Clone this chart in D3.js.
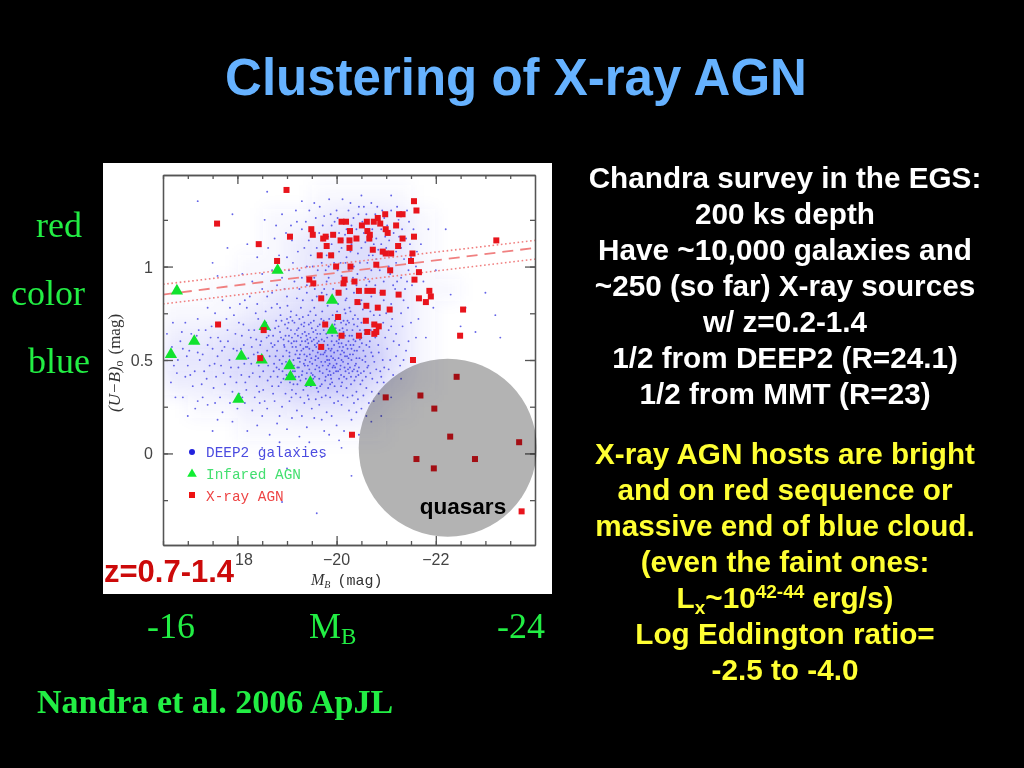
<!DOCTYPE html>
<html><head><meta charset="utf-8">
<script src="https://cdn.jsdelivr.net/npm/d3@7"></script>
<style>html,body{margin:0;padding:0;background:#000;overflow:hidden}svg{display:block}</style>
</head><body><svg id="c" width="1024" height="768"></svg>
<script>
// Chart values: [M_B, (U-B)]
const blueCore=[[-19.52,.55],[-19.81,.62],[-20.13,.49],[-19.27,.58],[-19.66,.44],[-20.31,.63],[-18.92,.52],[-19.08,.66],[-20.44,.42],[-19.97,.71],[-19.36,.47],[-20.22,.56],[-18.71,.57],[-19.73,.53],[-20.05,.61],[-19.44,.69],[-20.58,.52],[-18.84,.45],[-19.17,.41],[-20.37,.74],[-19.59,.62],[-19.91,.38],[-20.69,.66],[-18.63,.63],[-19.22,.51],[-20.16,.77],[-19.48,.36],[-20.51,.59],[-19.03,.6],[-19.86,.48],[-20.27,.46],[-18.96,.69],[-19.69,.72],[-20.76,.49],[-19.31,.64],[-20.02,.55],[-18.55,.49],[-19.12,.44],[-20.42,.68],[-19.57,.5],[-19.78,.41],[-20.09,.42],[-18.78,.71],[-20.62,.71],[-19.41,.57],[-19.94,.65],[-20.33,.53],[-19.25,.72],[-18.88,.38],[-19.63,.33],[-20.2,.35],[-20.84,.58],[-19.05,.54],[-19.38,.4],[-19.84,.56],[-20.47,.61],[-18.67,.41],[-19.55,.78],[-20.12,.67],[-20.55,.44],[-19.19,.6],[-19.75,.6],[-18.48,.6],[-20.29,.41],[-19.47,.62],[-19.99,.44],[-20.72,.4],[-19.1,.34],[-18.8,.55],[-19.35,.53],[-20.39,.48],[-19.6,.47],[-20.07,.74],[-20.93,.5],[-19.89,.52],[-19.28,.78],[-18.58,.7],[-20.25,.7],[-19.02,.47],[-19.7,.37],[-20.6,.35],[-20.15,.54],[-19.45,.45],[-18.93,.61],[-19.82,.79],[-20.48,.37],[-19.15,.7],[-20.34,.58],[-19.95,.58],[-19.62,.68],[-18.74,.48],[-20.81,.67],[-19.33,.34],[-20.01,.33],[-19.5,.6],[-20.66,.57],[-18.99,.42],[-19.24,.46],[-19.77,.49],[-20.18,.44],[-20.41,.55],[-18.6,.55],[-19.08,.76],[-19.87,.67],[-19.4,.52],[-20.53,.77],[-20.1,.59],[-19.68,.57],[-18.86,.65],[-19.2,.55],[-20.3,.5],[-19.56,.41],[-19.92,.46],[-20.75,.74],[-18.7,.36],[-20.03,.8],[-19.3,.42],[-20.45,.46],[-19.13,.5],[-19.74,.66],[-20.24,.6],[-19.43,.74],[-18.95,.57],[-20.57,.64],[-19.83,.35],[-20.14,.71],[-19.64,.56],[-18.52,.44],[-19.37,.6],[-20.36,.39],[-20.88,.44],[-19.06,.38],[-19.97,.5],[-19.53,.65],[-20.21,.52],[-19.26,.49],[-18.82,.6],[-19.8,.45],[-20.5,.7],[-20.08,.47],[-19.42,.31],[-19.71,.76],[-20.32,.66],[-18.9,.48],[-19.16,.64],[-20.64,.47],[-19.58,.52],[-19.9,.6],[-20.17,.63],[-20.98,.62],[-19.34,.68],[-18.65,.52],[-19.0,.72],[-20.4,.33],[-19.76,.54],[-20.04,.51],[-19.46,.49],[-20.28,.76],[-19.21,.37],[-18.76,.67],[-20.7,.54],[-19.65,.46],[-19.88,.42],[-20.11,.38],[-19.54,.71],[-19.29,.55],[-20.46,.57],[-18.98,.49],[-19.79,.7],[-20.23,.48],[-19.11,.57],[-20.59,.41],[-19.39,.63],[-19.96,.36],[-20.78,.62],[-18.73,.44],[-19.61,.59],[-20.06,.66],[-20.35,.45],[-19.23,.67],[-19.49,.43],[-18.87,.74],[-19.85,.5],[-20.19,.58],[-20.52,.5],[-19.04,.63]];
const blueCoreMore=[[-19.56,.58],[-19.83,.47],[-19.33,.56],[-20.02,.63],[-19.67,.64],[-20.27,.53],[-18.94,.58],[-19.14,.47],[-19.47,.39],[-19.92,.74],[-20.16,.46],[-19.72,.43],[-20.38,.6],[-19.01,.67],[-19.28,.62],[-19.58,.74],[-19.88,.55],[-20.09,.7],[-20.29,.37],[-18.81,.41],[-19.42,.47],[-19.73,.58],[-20.05,.4],[-20.46,.51],[-19.17,.53],[-18.68,.59],[-19.51,.48],[-19.94,.43],[-20.21,.66],[-20.62,.46],[-19.32,.73],[-19.63,.51],[-19.84,.66],[-20.13,.57],[-18.89,.71],[-19.07,.43],[-19.39,.36],[-19.77,.39],[-20.35,.69],[-20.54,.55],[-19.19,.74],[-19.54,.61],[-20,.48],[-20.25,.43],[-18.77,.52],[-19.45,.56],[-19.69,.49],[-20.08,.53],[-20.43,.72],[-19.24,.41],[-18.97,.63],[-19.6,.35],[-19.91,.63],[-20.18,.75],[-20.67,.6],[-19.36,.65],[-19.8,.52],[-20.03,.44],[-19.11,.71],[-18.62,.47],[-19.5,.67],[-19.74,.71],[-20.3,.56],[-20.49,.43],[-19.26,.53],[-19.95,.54],[-19.65,.4],[-20.12,.62],[-20.37,.47],[-18.85,.5],[-19.41,.61],[-19.87,.37],[-20.24,.51],[-20.73,.52],[-19.05,.52],[-19.31,.44],[-19.57,.45],[-19.82,.58],[-20.06,.57],[-20.33,.72],[-18.72,.63],[-19.2,.66],[-19.48,.7],[-19.98,.67],[-20.56,.66],[-19.13,.37],[-19.37,.5],[-19.62,.54],[-19.86,.44],[-20.15,.41],[-20.4,.51],[-18.91,.44],[-19.44,.64],[-19.7,.61],[-20.01,.76],[-20.26,.63],[-20.8,.45],[-19.09,.59],[-19.3,.6],[-19.55,.37],[-19.79,.64],[-20.1,.5],[-20.44,.64],[-18.83,.68],[-19.16,.44],[-19.4,.43],[-19.66,.69],[-19.93,.51],[-20.2,.4],[-20.6,.58],[-19.25,.51],[-19.52,.42],[-19.78,.55],[-20.04,.59],[-20.32,.44],[-18.66,.66],[-19.03,.7],[-19.35,.7],[-19.59,.57],[-19.85,.72],[-20.14,.65],[-20.52,.39],[-19.18,.57],[-19.46,.53],[-19.72,.47],[-19.97,.46],[-20.22,.71],[-20.68,.43],[-18.93,.4],[-19.27,.39],[-19.61,.64],[-19.89,.4],[-20.17,.52],[-20.39,.41],[-19.1,.62],[-19.43,.59],[-19.75,.68],[-20.07,.45],[-20.34,.61],[-20.72,.69],[-18.79,.46],[-19.22,.63],[-19.49,.51],[-19.81,.5],[-20.11,.55],[-20.47,.66],[-19.04,.48],[-19.34,.48],[-19.64,.6],[-19.96,.69],[-20.28,.58],[-20.58,.49],[-18.59,.62],[-18.99,.55],[-19.38,.57],[-19.68,.53],[-20,.6],[-20.23,.45],[-20.5,.62],[-19.14,.6],[-19.53,.4],[-19.9,.56],[-20.19,.69],[-18.75,.58],[-19.29,.69],[-19.67,.36],[-20.09,.36],[-20.42,.44],[-19.07,.73],[-19.47,.76],[-19.83,.42],[-20.26,.78],[-20.85,.54],[-18.88,.62],[-19.21,.46],[-19.58,.66],[-19.94,.47],[-20.36,.55]];
const blueWide=[[-16.6,.52],[-16.72,.47],[-16.85,.6],[-16.95,.41],[-17.03,.55],[-17.1,.36],[-17.18,.63],[-17.24,.5],[-17.33,.44],[-17.4,.58],[-17.48,.68],[-17.52,.35],[-17.6,.52],[-17.66,.6],[-17.72,.43],[-17.78,.72],[-17.84,.5],[-17.9,.33],[-17.96,.64],[-18.02,.46],[-18.07,.56],[-18.12,.69],[-18.16,.38],[-18.22,.51],[-18.27,.62],[-18.31,.43],[-18.37,.75],[-18.41,.54],[-18.44,.33],[-18.47,.67],[-16.58,.64],[-16.66,.38],[-16.8,.5],[-16.9,.56],[-17,.47],[-17.07,.64],[-17.14,.44],[-17.2,.54],[-17.28,.37],[-17.36,.66],[-17.44,.47],[-17.5,.56],[-17.57,.41],[-17.63,.7],[-17.69,.55],[-17.75,.37],[-17.81,.6],[-17.87,.46],[-17.93,.74],[-17.99,.55],[-18.04,.32],[-18.09,.63],[-18.14,.48],[-18.19,.78],[-18.24,.41],[-18.29,.57],[-18.34,.66],[-18.39,.36],[-18.43,.47],[-18.46,.58],[-16.68,.57],[-16.78,.43],[-16.88,.65],[-16.98,.52],[-17.05,.42],[-17.12,.59],[-17.22,.66],[-17.3,.53],[-17.38,.4],[-17.46,.62],[-17.54,.48],[-17.61,.62],[-17.67,.47],[-17.74,.57],[-17.8,.66],[-17.86,.41],[-17.92,.56],[-17.98,.38],[-18.03,.7],[-18.08,.42],[-18.13,.58],[-18.18,.34],[-18.23,.66],[-18.28,.48],[-18.33,.53],[-18.38,.61],[-18.42,.72],[-18.45,.41],[-17.4,.78],[-17.7,.82],[-18.05,.8],[-18.25,.84],[-18.4,.8],[-18.6,.84],[-18.8,.8],[-19,.84],[-19.2,.83],[-19.4,.86],[-19.6,.84],[-19.8,.85],[-20,.86],[-20.2,.83],[-20.4,.82],[-20.6,.8],[-20.8,.78],[-21,.75],[-21.1,.68],[-21.15,.6],[-21.2,.52],[-21.05,.45],[-20.95,.38],[-20.85,.32],[-20.75,.28],[-20.65,.27],[-20.5,.24],[-20.35,.27],[-20.25,.23],[-20.1,.26],[-19.95,.27],[-19.8,.22],[-19.65,.26],[-19.5,.24],[-19.35,.27],[-19.2,.23],[-19.05,.28],[-18.9,.25],[-18.75,.28],[-18.6,.24],[-18.45,.27],[-18.3,.23],[-18.15,.27],[-18,.24],[-17.85,.27],[-17.7,.22],[-17.55,.27],[-17.4,.26],[-18.5,.2],[-18.8,.16],[-19.1,.19],[-19.4,.14],[-19.7,.18],[-20,.15],[-20.3,.18],[-20.6,.2],[-20.9,.2],[-18.2,.12],[-18.65,.1],[-19.25,.09],[-19.85,.1],[-20.45,.1],[-21.1,.3],[-21.3,.4],[-21.35,.5],[-21.45,.6],[-21.5,.7],[-21.3,.75],[-21.25,.85],[-19.2,.03],[-18.5,.03],[-20.1,.03],[-19.7,-.02],[-19,-.08],[-20.3,-.12],[-18.3,-.13],[-18.9,-.26],[-19.6,-.32],[-17.5,.12],[-17,.2],[-17.2,.28],[-16.9,.3]];
const blueWideMore=[[-18.52,.34],[-18.57,.76],[-18.61,.39],[-18.69,.78],[-18.72,.32],[-18.83,.36],[-18.86,.78],[-18.97,.32],[-19.01,.79],[-19.09,.3],[-19.18,.32],[-19.27,.3],[-19.32,.82],[-19.44,.29],[-19.51,.82],[-19.58,.29],[-19.7,.3],[-19.78,.31],[-19.87,.3],[-19.93,.82],[-20.03,.28],[-20.13,.31],[-20.18,.82],[-20.22,.3],[-20.32,.31],[-20.43,.29],[-20.48,.8],[-20.54,.31],[-20.68,.76],[-20.71,.33],[-20.82,.38],[-20.87,.74],[-20.9,.41],[-20.94,.7],[-20.96,.46],[-21.02,.56],[-21.05,.66],[-21.08,.5],[-21.12,.72],[-21.14,.42],[-21.2,.64],[-21.26,.58],[-21.28,.47],[-21.33,.68],[-21.4,.55],[-21.44,.78],[-21.55,.5],[-21.6,.62],[-18.1,.3],[-17.95,.28],[-17.65,.3],[-17.3,.3],[-17.15,.24],[-16.75,.3],[-18.35,.3],[-18.55,.28],[-18.85,.2],[-19,.13],[-19.3,.2],[-19.55,.19],[-19.75,.12],[-19.9,.2],[-20.15,.12],[-20.4,.22],[-20.7,.17],[-20.05,.07],[-19.45,.06],[-18.85,.06],[-18.4,.15],[-17.9,.17],[-17.6,.18],[-17.2,.72],[-16.95,.7],[-16.7,.7],[-17.55,.75],[-17.85,.78],[-18.15,.82],[-18.5,.88],[-18.7,.86],[-18.95,.88],[-19.25,.88],[-19.5,.9],[-19.75,.88],[-20.1,.9],[-20.35,.86],[-20.7,.84],[-20.95,.82],[-21.1,.8]];
const blueRed=[[-20.5,1.1],[-20.9,1.2],[-20.2,1.05],[-21.2,1.02],[-20.7,.98],[-20.3,1.22],[-19.9,1.12],[-20.1,.95],[-21,1.1],[-20.6,1.28],[-19.7,1.02],[-21.4,1.15],[-20.4,.9],[-20.8,1.04],[-19.5,1.2],[-20,1.3],[-21.1,1.3],[-20.25,1.14],[-20.95,.92],[-19.8,.92],[-21.3,.94],[-20.55,1.18],[-20.15,1.25],[-19.6,1.1],[-20.75,1.12],[-21.25,1.25],[-20.35,1],[-19.95,1.02],[-20.85,1.25],[-19.35,1.1],[-21.5,1.05],[-20.65,1.06],[-20.05,1.18],[-20.45,1.32],[-19.25,.98],[-21.05,1],[-19.75,1.27],[-21.15,1.18],[-20.2,.88],[-19.55,.94],[-20.88,.86],[-21.38,.88],[-19.1,1.14],[-19.9,1.22],[-21.6,1],[-20.6,.9],[-19.45,1.3],[-21.55,1.2],[-20.3,1.12],[-20.72,1.2],[-19.65,1.18],[-20.98,1.16],[-19.2,1.24],[-19,1.05],[-20.12,1.36],[-20.82,1.32],[-21.42,1.3],[-19.85,1.36],[-19.4,.9],[-18.9,.94],[-18.75,1.15],[-18.7,.98],[-18.55,1.25],[-18.4,1.05],[-18.3,.92],[-18.9,1.28],[-19.3,1.35],[-19.55,1.34],[-20.5,1.38],[-21.1,1.38],[-21.7,1.12],[-21.75,.92],[-21.85,1.2],[-21.95,.78],[-21.8,.62],[-21.65,.72],[-22,.98],[-22.2,1.2],[-22.3,.85],[-22.5,.68],[-22.6,.78],[-23,.86],[-23.2,.74],[-23.3,.62],[-22.8,.65],[-18.2,1.12],[-18.1,.96],[-17.8,1.1],[-17.5,1.02],[-17.2,1.35],[-17.9,1.28],[-18.6,1.4],[-17.6,.95],[-19.7,.86],[-20.5,.82],[-21.35,.82],[-19.15,.92],[-20.05,1.08],[-20.4,1.2],[-20.8,1.15],[-20.25,.98],[-21.2,1.08],[-19.8,1.06],[-20.62,1.02],[-20.43,1.07],[-20.17,1.17],[-20.68,1.14],[-20.92,1.07],[-19.83,1.16],[-19.62,.98],[-20.33,.94],[-21.08,.96],[-20.52,1.24],[-20.02,.98],[-19.72,1.14],[-21.3,1.1],[-20.78,.9],[-19.48,1.06],[-20.24,1.3],[-20.96,1.26],[-21.18,.88],[-19.93,.88],[-20.58,.94],[-19.3,1.2],[-20.1,1.1],[-20.37,1.16],[-20.63,1.2],[-20.87,.98],[-21.45,.98],[-19.58,1.26],[-19.88,1.28],[-20.47,1.02],[-20.73,1.06],[-21.02,1.22],[-20.08,1.02],[-19.4,1],[-18.98,1.18],[-21.22,.92],[-21.52,.9],[-21.32,1.2],[-20.28,1.08],[-20.55,1.32],[-19.78,.98],[-20.9,1.12],[-20.18,1.02],[-20.42,.96],[-20.66,.92],[-20.84,1.09],[-21.12,1.06],[-21.36,1.04],[-19.92,1.07],[-19.68,1.07],[-19.44,1.14],[-19.12,1.02],[-18.84,1.06],[-18.62,1.1],[-19.22,1.08],[-19.52,1],[-19.84,1],[-20.12,1.14],[-20.34,1.26],[-20.58,1.13],[-20.78,1.28],[-21.06,1.14],[-21.26,1.16],[-21.48,1.12],[-21.62,1.08],[-19.96,1.24],[-20.2,1.2],[-19.72,1.22],[-19.38,1.24],[-19.08,1.22],[-20.44,1.28],[-20.7,1.34],[-20.92,1.3],[-21.22,1.32],[-21.46,1.24],[-21.66,.96],[-21.42,.92],[-21.14,.9],[-20.72,.88],[-20.44,.86],[-20.14,.9],[-19.84,.94],[-19.56,.88],[-19.3,.94],[-19.04,.98],[-18.8,.9],[-18.5,.96],[-20.02,1.26],[-20.28,1.34],[-19.66,1.32],[-19.18,1.3],[-18.78,1.22]];
const xrayMag=[-18.99,-17.59,-19.06,-18.43,-19.49,-19.52,-19.78,-19.73,-19.8,-19.66,-19.89,-18.8,-19.45,-19.53,-19.69,-17.61,-18.53,-19.77,-19.69,-18.46,-21.56,-21.61,-20.98,-21.26,-21.33,-20.1,-20.19,-20.51,-20.61,-20.75,-20.83,-20.88,-21.2,-20.99,-21.03,-20.62,-20.67,-20.27,-19.93,-20.08,-20.26,-20.4,-20.66,-21.33,-21.56,-23.22,-20.26,-21.24,-20.73,-20.93,-20.99,-21.1,-21.53,-21.5,-19.99,-20.28,-20.8,-21.08,-21.66,-21.57,-20.16,-20.14,-20.36,-20.45,-20.04,-20.62,-20.73,-20.93,-21.25,-21.87,-21.66,-21.9,-21.8,-20.42,-20.6,-20.83,-21.07,-22.55,-20.03,-20.59,-20.76,-20.85,-22.49,-20.62,-20.76,-20.8,-20.45,-20.1,-21.54,-22.42,-21.69,-20.99,-21.97,-20.31,-22.29,-23.68,-21.61,-22.79,-21.96,-23.73];
const xrayCol=[1.41,1.23,1.16,1.12,1.2,1.17,1.16,1.15,1.11,1.06,1.06,1.03,.93,.91,.83,.69,.66,.69,.57,.51,1.35,1.3,1.28,1.28,1.28,1.24,1.24,1.22,1.24,1.24,1.26,1.23,1.22,1.2,1.18,1.19,1.17,1.19,1.17,1.14,1.14,1.15,1.15,1.15,1.16,1.14,1.1,1.11,1.09,1.08,1.07,1.07,1.07,1.03,1,1,1.01,.98,.97,.93,.93,.91,.92,.87,.86,.87,.87,.86,.85,.87,.83,.84,.81,.81,.79,.78,.77,.77,.73,.71,.69,.68,.63,.65,.64,.65,.63,.63,.5,.41,.31,.3,.24,.1,.09,.06,-.03,-.03,-.08,-.31];
const irMag=[-16.78,-18.81,-16.66,-17.13,-18.55,-18.08,-18.49,-19.05,-19.07,-19.47,-18.02,-19.91,-19.91];
const irCol=[.87,.98,.53,.6,.68,.52,.5,.47,.41,.38,.29,.82,.66];
// estimated density of the galaxy cloud, read by eye per cell
const densMag=[-16.75,-17.25,-17.75,-18.25,-18.75,-19.25,-19.75,-20.25,-20.75,-21.25,-21.75,-22.25,-22.75];
const densCol=[1.375,1.25,1.125,1,.875,.75,.625,.5,.375,.25,.125];
const densRows=[[0,0,0,0,0,0,1,1,1,1,0,0,0],[0,0,0,0,1,1,2,3,3,2,1,0,0],[0,0,0,0,1,2,3,4,4,3,1,0,0],[0,0,0,1,1,2,4,4,4,3,1,0,0],[0,0,1,1,2,3,4,4,4,3,1,1,0],[1,1,1,2,3,4,5,5,4,3,1,0,0],[2,2,3,4,5,6,7,7,5,3,1,0,0],[3,3,4,5,6,7,9,8,6,3,1,0,0],[2,2,3,4,5,6,7,6,4,2,1,0,0],[0,1,1,2,2,3,3,3,2,1,0,0,0],[0,0,0,1,1,1,1,1,1,0,0,0,0]];
const fitMag=[-16.5,-24];
const fitMid=[.85,1.1];const fitUp=[.905,1.14];const fitLow=[.8,1.04];
const xMajor=[-18,-20,-22];const xMinor=[-16.5,-17,-17.5,-18,-18.5,-19,-19.5,-20,-20.5,-21,-21.5,-22,-22.5,-23,-23.5];
const xLabels=[-20,-22];
const yMajor=[0,.5,1];const yMinor=[-.25,0,.25,.5,.75,1,1.25];
const legendNames=["DEEP2 galaxies","Infared AGN","X-ray AGN"];
const rightWhite=["Chandra survey in the EGS:","200 ks depth","Have ~10,000 galaxies and","~250 (so far) X-ray sources","w/ z=0.2-1.4","1/2 from DEEP2 (R=24.1)","1/2 from MMT (R=23)"];

const svg=d3.select("#c");
svg.append("rect").attr("width",1024).attr("height",768).attr("fill","#000");
svg.append("text").attr("x",516).attr("y",95).attr("text-anchor","middle").attr("font-family","Liberation Sans").attr("font-weight","bold").attr("font-size",51).attr("fill","#66b2ff").text("Clustering of X-ray AGN");
svg.append("rect").attr("x",103).attr("y",163).attr("width",449).attr("height",431).attr("fill","#fff");
const x=d3.scaleLinear().domain([-16.5,-24]).range([163,535]);
const y=d3.scaleLinear().domain([-.49,1.49]).range([545,175]);
const defs=svg.append("defs");
defs.append("filter").attr("id","bl").attr("x","-20%").attr("y","-20%").attr("width","140%").attr("height","140%").append("feGaussianBlur").attr("stdDeviation",8);
defs.append("clipPath").attr("id","pl").append("rect").attr("x",164).attr("y",176).attr("width",370).attr("height",368);
const g=svg.append("g");
const dg=g.append("g").attr("clip-path","url(#pl)").append("g").attr("filter","url(#bl)");
densRows.forEach((r,i)=>r.forEach((v,j)=>{ if(v>0) dg.append("rect").attr("x",x(densMag[j])-12.4).attr("y",y(densCol[i])-11.7).attr("width",24.8).attr("height",23.4).attr("fill","#4646ee").attr("opacity",v*.045);}));
const all=blueCore.concat(blueCoreMore,blueWide,blueWideMore,blueRed);
g.append("g").selectAll("circle").data(all).join("circle").attr("cx",d=>x(d[0])).attr("cy",d=>y(d[1])).attr("r",.95).attr("fill","#3030e0").attr("opacity",.75);
// fit lines
[[fitUp,"1.6 2.6"],[fitMid,"11 7"],[fitLow,"1.6 2.6"]].forEach(([v,dash],i)=>{
 g.append("path").attr("d",d3.line().x(d=>x(d[0])).y(d=>y(d[1]))([[fitMag[0],v[0]],[fitMag[1],v[1]]])).attr("fill","none").attr("stroke","#f08080").attr("stroke-width",i==1?1.8:1.6).attr("stroke-dasharray",dash);
});
// frame + ticks
const axCol="#555";
function ax(a,tx,ty){const s=g.append("g").attr("transform",`translate(${tx},${ty})`).call(a);s.selectAll("path,line").attr("stroke",axCol).attr("stroke-width",1.3);s.selectAll("text").remove();return s;}
ax(d3.axisBottom(x).tickValues(xMinor).tickSize(-4).tickSizeOuter(0),0,545);
ax(d3.axisBottom(x).tickValues(xMajor).tickSize(-9).tickSizeOuter(0),0,545);
ax(d3.axisTop(x).tickValues(xMinor).tickSize(-4).tickSizeOuter(0),0,175);
ax(d3.axisTop(x).tickValues(xMajor).tickSize(-9).tickSizeOuter(0),0,175);
ax(d3.axisLeft(y).tickValues(yMinor).tickSize(-5).tickSizeOuter(0),163,0);
ax(d3.axisLeft(y).tickValues(yMajor).tickSize(-10).tickSizeOuter(0),163,0);
ax(d3.axisRight(y).tickValues(yMinor).tickSize(-5).tickSizeOuter(0),535,0);
ax(d3.axisRight(y).tickValues(yMajor).tickSize(-10).tickSizeOuter(0),535,0);
const tickFont="Liberation Sans";
yMajor.forEach(v=>g.append("text").attr("x",153).attr("y",y(v)+6).attr("text-anchor","end").attr("font-family",tickFont).attr("font-size",16).attr("fill","#444").text(v));
xLabels.forEach(v=>g.append("text").attr("x",x(v)).attr("y",565).attr("text-anchor","middle").attr("font-family",tickFont).attr("font-size",16).attr("fill","#444").text("\u2212"+Math.abs(v)));
const xl=g.append("text").attr("x",311).attr("y",585).attr("font-family","Liberation Serif").attr("font-size",16).attr("fill","#333");
xl.append("tspan").attr("font-style","italic").text("M");
xl.append("tspan").attr("font-style","italic").attr("font-size",10).attr("dy",3).text("B");
xl.append("tspan").attr("dy",-3).attr("dx",7).attr("font-family","Liberation Mono").attr("font-size",15).text("(mag)");
const yl=g.append("text").attr("transform","translate(120,412) rotate(-90)").attr("font-family","Liberation Serif").attr("font-size",17).attr("fill","#333");
yl.append("tspan").attr("font-style","italic").text("(U\u2212B)");
yl.append("tspan").attr("font-size",12).attr("dy",3).text("o");
yl.append("tspan").attr("dy",-3).attr("dx",6).text("(mag)");
// legend
g.append("circle").attr("cx",192).attr("cy",452).attr("r",3).attr("fill","#2222dd");
g.append("path").attr("transform","translate(192,474)").attr("d",d3.symbol(d3.symbolTriangle,40)()).attr("fill","#11ee33");
g.append("rect").attr("x",189).attr("y",492).attr("width",6).attr("height",6).attr("fill","#ee1111");
legendNames.forEach((n,i)=>g.append("text").attr("x",206).attr("y",457+i*22).attr("font-family","Liberation Mono").attr("font-size",14.4).attr("fill",["#4c4ce0","#44e070","#ee4444"][i]).text(n));
// IR AGN
g.append("g").selectAll("path").data(irMag).join("path").attr("transform",(d,i)=>`translate(${x(d)},${y(irCol[i])})`).attr("d",d3.symbol(d3.symbolTriangle,65)()).attr("fill","#11e22e");
// X-ray AGN
const sz=6;
g.append("g").selectAll("rect").data(xrayMag).join("rect").attr("x",d=>x(d)-sz/2).attr("y",(d,i)=>y(xrayCol[i])-sz/2).attr("width",sz).attr("height",sz).attr("fill","#e8141c");
// quasar circle
svg.append("circle").attr("cx",447.7).attr("cy",447.8).attr("r",89).attr("fill","#b3b3b3").style("mix-blend-mode","multiply");
svg.append("text").attr("x",463).attr("y",514).attr("text-anchor","middle").attr("font-family","Liberation Sans").attr("font-weight","bold").attr("font-size",22.5).attr("fill","#000").text("quasars");
// z label
svg.append("text").attr("x",104).attr("y",582).attr("font-family","Liberation Sans").attr("font-weight","bold").attr("font-size",31).attr("fill","#cc0a0a").text("z=0.7-1.4");
g.append("text").attr("x",235).attr("y",565).attr("font-family",tickFont).attr("font-size",16).attr("fill","#444").text("18");
// side serif labels
const green="#22ee44";
function ser(t,xp,yp,anchor,bold,fs){return svg.append("text").attr("x",xp).attr("y",yp).attr("text-anchor",anchor||"start").attr("font-family","Liberation Serif").attr("font-weight",bold?"bold":"normal").attr("font-size",fs||36).attr("fill",green).text(t);}
ser("red",36,237);ser("color",11,305);ser("blue",28,373);
ser("-16",147,638);ser("-24",497,638);
const mb=ser("M",309,638);mb.append("tspan").attr("font-size",23).attr("dy",6).text("B");
ser("Nandra et al. 2006 ApJL",37,713,"start",true,34);
// right text
const fw={"font-family":"Liberation Sans","font-weight":"bold","font-size":29.7};
function rt(yp,col){const t=svg.append("text").attr("x",785).attr("y",yp).attr("text-anchor","middle").attr("fill",col);Object.entries(fw).forEach(([k,v])=>t.attr(k,v));return t;}
rightWhite.forEach((s,i)=>rt(188+i*36,"#fff").text(s));
const Y="#ffff33";
rt(464,Y).text("X-ray AGN hosts are bright");
rt(500,Y).text("and on red sequence or");
rt(536,Y).text("massive end of blue cloud.");
rt(572,Y).text("(even the faint ones:");
const l=rt(608,Y);l.append("tspan").text("L");l.append("tspan").attr("font-size",19).attr("dy",6).text("x");l.append("tspan").attr("dy",-6).text("~10");l.append("tspan").attr("font-size",19).attr("dy",-10).text("42-44");l.append("tspan").attr("dy",10).text(" erg/s)");
rt(644,Y).text("Log Eddington ratio=");
rt(680,Y).text("-2.5 to -4.0");
</script></body></html>
